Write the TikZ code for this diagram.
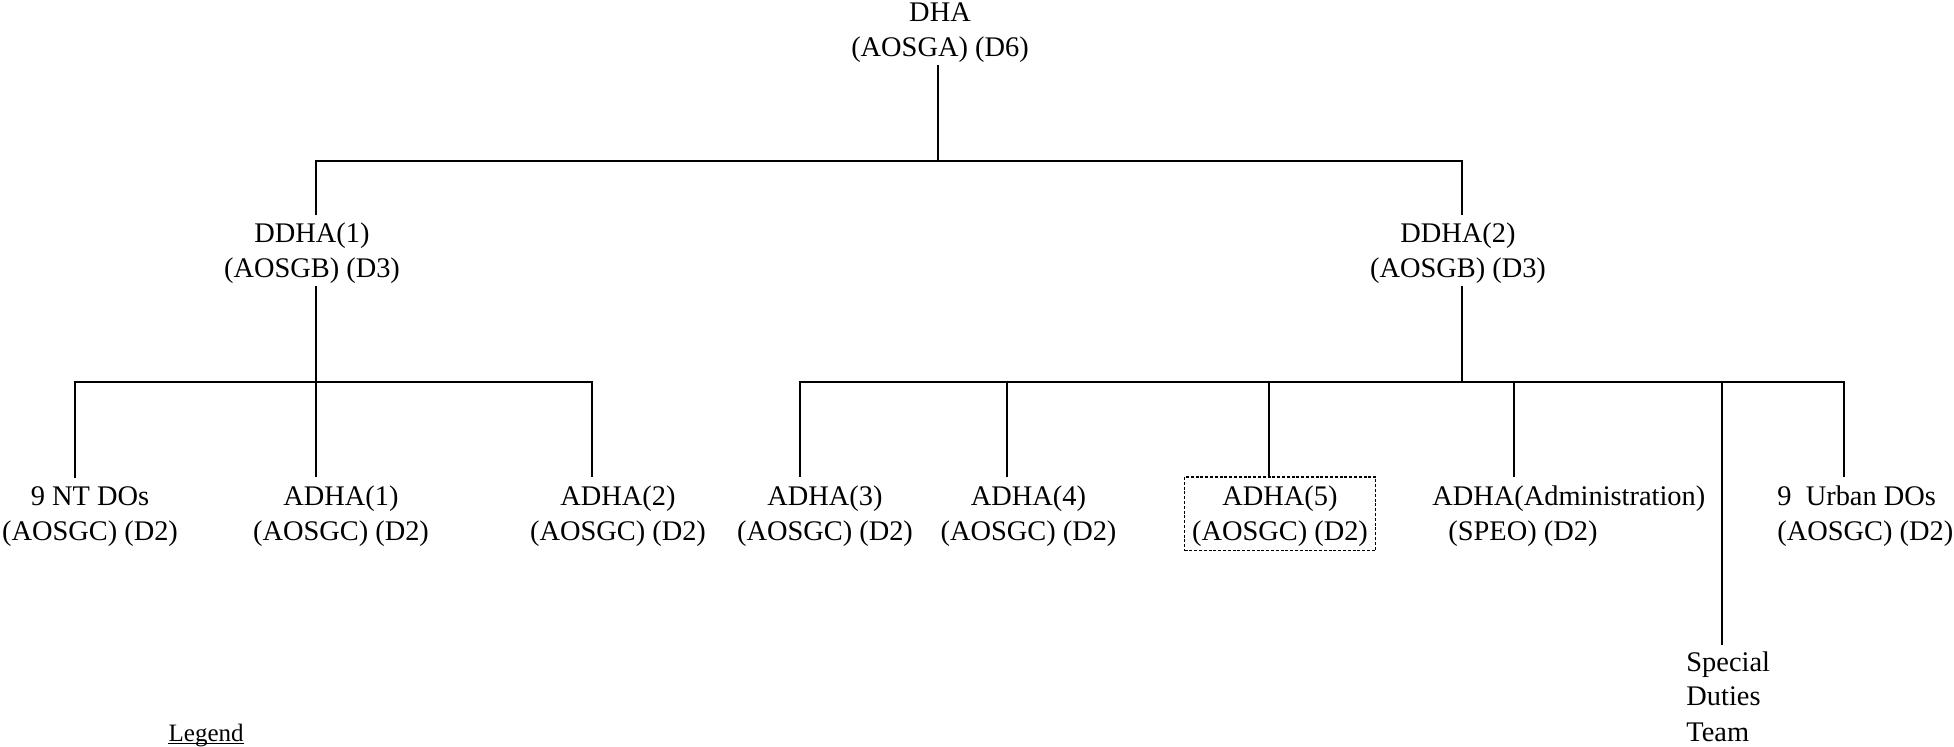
\documentclass[tikz,border=0pt]{standalone}
\usepackage{fontspec}
\setmainfont{Liberation Serif}
\newcommand{\lastline}[1]{\raisebox{0pt}[\height][0pt]{#1}}
\begin{document}
\begin{tikzpicture}[x=0.5pt,y=-0.5pt,
  every node/.style={font=\fontsize{14.2pt}{17.5pt}\selectfont, inner sep=0pt},
  unit/.style={align=center, anchor=base, outer ysep=4.8pt},
  leftunit/.style={align=left, anchor=base west, outer ysep=4.8pt},
  link/.style={line width=1pt},
  dashbox/.style={draw, line width=0.85pt, dash pattern=on 1.5pt off 0.9pt,
    inner xsep=3.75pt, inner ysep=4.8pt, outer sep=0pt}]
\useasboundingbox (0,0) rectangle (1954,747);

% top (node placed at baseline of its last line)
\node[unit, outer ysep=4pt] (dha) at (940,57) {DHA\\\lastline{(AOSGA) (D6)}};
\node[unit, outer ysep=4pt] (dd1) at (312,278) {DDHA(1)\\\lastline{(AOSGB) (D3)}};
\node[unit, outer ysep=4pt] (dd2) at (1458,278) {DDHA(2)\\\lastline{(AOSGB) (D3)}};

% level 3
\node[unit] (ndos)  at (90,541)   {9 NT DOs\\\lastline{(AOSGC) (D2)}};
\node[unit] (adha1) at (341,541)  {ADHA(1)\\\lastline{(AOSGC) (D2)}};
\node[unit] (adha2) at (618,541)  {ADHA(2)\\\lastline{(AOSGC) (D2)}};
\node[unit] (adha3) at (825,541)  {ADHA(3)\\\lastline{(AOSGC) (D2)}};
\node[unit] (adha4) at (1028.5,541) {ADHA(4)\\\lastline{(AOSGC) (D2)}};
\node[unit, dashbox] (adha5) at (1280,541) {ADHA(5)\\\lastline{(AOSGC) (D2)}};
\node[leftunit] (admin) at (1432,541) {ADHA(Administration)\\\hspace*{8pt}\lastline{(SPEO) (D2)}};
\node[leftunit] (urban) at (1777,541) {9\ \ Urban DOs\\\lastline{(AOSGC) (D2)}};
\node[leftunit, outer ysep=3pt] (special) at (1686,741) {Special\\Duties\\\lastline{Team}};

% legend
\node[font=\fontsize{12.5pt}{15pt}\selectfont, anchor=base west] (legend) at (168.3,741.5) {Legend};
\draw[line width=0.7pt] ([yshift=-0.9pt]legend.base west) -- ([yshift=-0.9pt]legend.base east);

% junction coordinates
\coordinate (j0) at (937.5,161.5);
\coordinate (jL) at (316,161.5);
\coordinate (jR) at (1461.8,161.5);
\coordinate (kL) at (316,382);
\coordinate (kLa) at (74.8,382);
\coordinate (kLb) at (592,382);
\coordinate (kR) at (1461.8,382);
\coordinate (kRa) at (800,382);
\coordinate (kRb) at (1844.4,382);
\coordinate (k4) at (1007,382);
\coordinate (k5) at (1268.6,382);
\coordinate (k6) at (1514,382);
\coordinate (k7) at (1722,382);

% connectors
\draw[link] (dha.south -| j0) -- (j0);
\draw[link] (dd1.north -| jL) -- (jL) -- (jR) -- (dd2.north -| jR);

\draw[link] (dd1.south -| kL) -- (kL);
\draw[link] (ndos.north -| kLa) -- (kLa) -- (kLb) -- (adha2.north -| kLb);
\draw[link] (kL) -- (adha1.north -| kL);

\draw[link] (dd2.south -| kR) -- (kR);
\draw[link] (adha3.north -| kRa) -- (kRa) -- (kRb) -- (urban.north -| kRb);
\draw[link] (k4) -- (adha4.north -| k4);
\draw[link] (k5) -- (adha5.north -| k5);
\draw[link] (k6) -- (admin.north -| k6);
\draw[link] (k7) -- (special.north -| k7);
\end{tikzpicture}
\end{document}
